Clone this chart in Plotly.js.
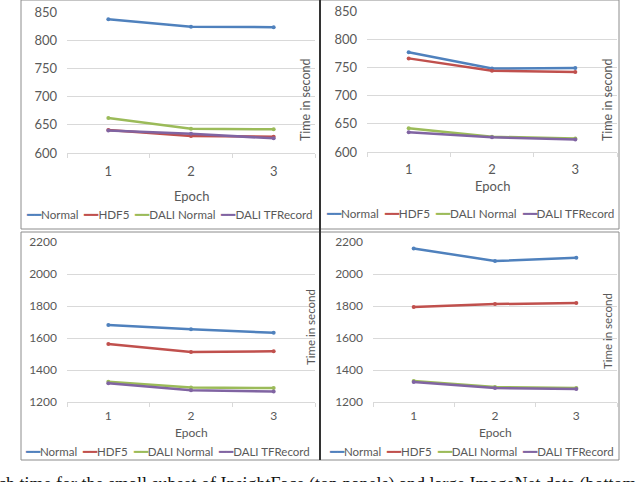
<!DOCTYPE html>
<html>
<head>
<meta charset="utf-8">
<script src="https://cdn.plot.ly/plotly-3.0.1.min.js"></script>
<style>html,body{margin:0;padding:0;background:#fff;}#chart{width:640px;height:482px;}</style>
</head>
<body>
<div id="chart"></div>
<script>
// ---- data ----
const epochs = ['1', '2', '3'];
const seriesNames = ['Normal', 'HDF5', 'DALI Normal', 'DALI TFRecord'];
const seriesColors = ['#4F81BD', '#C0504D', '#9BBB59', '#8064A2'];

// InsightFace small subset, left panel
const insightLeftNormal = [837, 824, 823];
const insightLeftHDF5 = [641, 630, 629];
const insightLeftDaliNormal = [662, 643, 642];
const insightLeftDaliTFRecord = [640, 634, 626];
// InsightFace small subset, right panel
const insightRightNormal = [777, 748, 749];
const insightRightHDF5 = [766, 744, 742];
const insightRightDaliNormal = [642, 627, 624];
const insightRightDaliTFRecord = [635, 626, 622];
// ImageNet large, left panel
const imagenetLeftNormal = [1681, 1654, 1633];
const imagenetLeftHDF5 = [1562, 1512, 1517];
const imagenetLeftDaliNormal = [1327, 1290, 1287];
const imagenetLeftDaliTFRecord = [1317, 1273, 1265];
// ImageNet large, right panel
const imagenetRightNormal = [2160, 2081, 2102];
const imagenetRightHDF5 = [1794, 1812, 1819];
const imagenetRightDaliNormal = [1332, 1294, 1287];
const imagenetRightDaliTFRecord = [1325, 1287, 1281];

const smallTicks = [600, 650, 700, 750, 800, 850];
const largeTicks = [1200, 1400, 1600, 1800, 2000, 2200];

const xTitle = 'Epoch';
const yTitle = 'Time in second';
const caption = 'ch time for the small subset of InsightFace (top panels) and large ImageNet data (bottom panels).';

// ---- layout helpers ----
const W = 640, H = 482;
const px = v => v / W;
const py = v => 1 - v / H;
const FONT = 'Lato, Carlito, "Liberation Sans", sans-serif';
const TXT = '#595959';
const GRID = '#d9d9d9';

const panels = [
  {series: [insightLeftNormal, insightLeftHDF5, insightLeftDaliNormal, insightLeftDaliTFRecord], ticks: smallTicks,
   x: [67, 315], y: [12, 153], fs: 12.5, legFs: 11.6, xStand: 6, xtY: 196, legX: 24, legY: 215, ytX: 305, ytY: 100, box: [21, 0, 320, 229]},
  {series: [insightRightNormal, insightRightHDF5, insightRightDaliNormal, insightRightDaliTFRecord], ticks: smallTicks,
   x: [367, 617], y: [11, 152], fs: 12.5, legFs: 11.7, xStand: 5, xtY: 186, legX: 324, legY: 213, ytX: 607, ytY: 100, box: [320, 0, 619, 229]},
  {series: [imagenetLeftNormal, imagenetLeftHDF5, imagenetLeftDaliNormal, imagenetLeftDaliTFRecord], ticks: largeTicks,
   x: [67, 315], y: [242, 402], fs: 11.5, legFs: 11.5, xStand: 3, xtY: 432, legX: 23, legY: 451, ytX: 310, ytY: 327, box: [21, 232, 320, 460]},
  {series: [imagenetRightNormal, imagenetRightHDF5, imagenetRightDaliNormal, imagenetRightDaliTFRecord], ticks: largeTicks,
   x: [373, 617], y: [242, 402], fs: 11.5, legFs: 11.5, xStand: 3, xtY: 432, legX: 327, legY: 451, ytX: 607, ytY: 331, box: [320, 232, 619, 460]}
];

const traces = [];
const layout = {
  width: W, height: H,
  margin: {l: 0, r: 0, t: 0, b: 0},
  paper_bgcolor: '#fff', plot_bgcolor: 'rgba(0,0,0,0)',
  showlegend: false,
  font: {family: FONT, color: TXT},
  annotations: [], shapes: []
};

panels.forEach((p, i) => {
  const n = i === 0 ? '' : String(i + 1);
  const xa = 'xaxis' + n, ya = 'yaxis' + n;
  p.series.forEach((vals, s) => {
    traces.push({
      type: 'scatter', mode: 'lines+markers',
      x: epochs, y: vals, name: seriesNames[s],
      xaxis: 'x' + n, yaxis: 'y' + n,
      line: {color: seriesColors[s], width: 2.5},
      marker: {color: seriesColors[s], size: 4},
      hoverinfo: 'skip'
    });
  });
  layout[xa] = {
    type: 'category', domain: [px(p.x[0]), px(p.x[1])], range: [-0.5, 2.5],
    anchor: 'y' + n, tickson: 'boundaries', ticks: 'outside', ticklen: 4, tickcolor: GRID,
    showline: true, linecolor: GRID, linewidth: 1, showgrid: false, zeroline: false,
    ticklabelstandoff: p.xStand,
    tickfont: {family: FONT, size: p.fs + 0.5, color: TXT}
  };
  layout[ya] = {
    domain: [py(p.y[1]), py(p.y[0])], range: [p.ticks[0], p.ticks[p.ticks.length - 1]],
    anchor: 'x' + n, tickvals: p.ticks, ticks: '', showline: false, zeroline: false,
    gridcolor: GRID, gridwidth: 1, ticklabelstandoff: 9,
    tickfont: {family: FONT, size: p.fs + 0.5, color: TXT}
  };
  // x-axis title "Epoch"
  layout.annotations.push({
    xref: 'paper', yref: 'paper', x: px((p.x[0] + p.x[1]) / 2), y: py(p.xtY), xanchor: 'center', yanchor: 'middle',
    text: xTitle, showarrow: false, font: {family: FONT, size: p.fs + 0.5, color: TXT}
  });
  // y-axis title
  layout.annotations.push({
    xref: 'paper', yref: 'paper', x: px(p.ytX), y: py(p.ytY), xanchor: 'center', yanchor: 'middle',
    text: yTitle, textangle: -90, showarrow: false, font: {family: FONT, size: p.fs, color: TXT}
  });
  // legend row
  const legText = seriesNames.map((nm, s) =>
    '<span style="color:' + seriesColors[s] + '">━━</span>' + nm).join('  ');
  layout.annotations.push({
    xref: 'paper', yref: 'paper', x: px(p.legX), y: py(p.legY), xanchor: 'left', yanchor: 'middle',
    text: legText, showarrow: false, font: {family: FONT, size: p.legFs, color: TXT}
  });
  layout.shapes.push({
    type: 'rect', xref: 'paper', yref: 'paper',
    x0: px(p.box[0]), y0: py(p.box[3]), x1: px(p.box[2]), y1: py(p.box[1]),
    line: {color: '#8c8c8c', width: 1}, fillcolor: 'rgba(0,0,0,0)', layer: 'above'
  });
});

layout.shapes.push({
  type: 'line', xref: 'paper', yref: 'paper', x0: px(320), x1: px(320), y0: py(460), y1: py(0),
  line: {color: '#333333', width: 2}, layer: 'above'
});
layout.annotations.push({
  xref: 'paper', yref: 'paper', x: px(-4), y: py(484), xanchor: 'left', yanchor: 'middle',
  text: caption, showarrow: false, font: {family: '"Liberation Serif", "Times New Roman", serif', size: 18, color: '#111'}
});

Plotly.newPlot('chart', traces, layout, {staticPlot: true, displayModeBar: false});
</script>
</body>
</html>
